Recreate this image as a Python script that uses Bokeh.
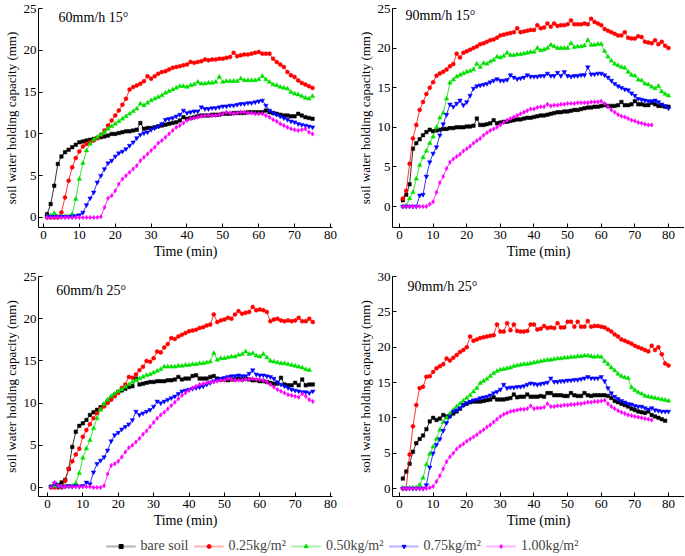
from bokeh.plotting import figure
from bokeh.models import Range1d, Label, Legend, LegendItem, FixedTicker
from bokeh.layouts import column, row
from bokeh.embed import file_html
from bokeh.resources import INLINE

FONT = "Liberation Serif"

series_names = ["bare soil", "0.25kg/m\u00b2", "0.50kg/m\u00b2", "0.75kg/m\u00b2", "1.00kg/m\u00b2"]
colors = ["#000000", "#ff0000", "#00e000", "#0000ff", "#ff00ff"]
pale_colors = ["#b4b4b4", "#ffb4b4", "#a8f0a8", "#b4b4ff", "#ffb4ff"]
markers = ["square", "circle", "triangle", "inverted_triangle", "diamond"]
marker_sizes = [3.5, 4, 4.5, 4.5, 4.5]

titles = ["60mm/h 15\u00b0", "90mm/h 15\u00b0", "60mm/h 25\u00b0", "90mm/h 25\u00b0"]
x_ticks = [0, 10, 20, 30, 40, 50, 60, 70, 80]
y_ticks_25 = [0, 5, 10, 15, 20, 25]
y_ticks_30 = [0, 5, 10, 15, 20, 25, 30]

# ---- Panel 1: 60mm/h 15 deg ----
p1_bare = [0.4,1.6,3.8,6.4,7.3,7.8,8.1,8.4,8.7,9.0, 9.1,9.2,9.3,9.4,9.5,9.6,9.7,9.8,10.0,10.0,
           10.1,10.2,10.3,10.3,10.4,10.5,11.3,10.6,10.7,10.7, 10.8,10.9,11.0,11.1,11.2,11.3,11.4,11.6,12.0,11.8,
           11.9,12.0,12.1,12.2,12.2,12.2,12.3,12.3,12.3,12.4, 12.4,12.4,12.5,12.5,12.5,12.5,12.6,12.6,12.6,12.6,
           12.6,12.8,12.6,12.5,12.4,12.3,12.2,12.2,12.1,12.1, 12.4,12.2,12.0,11.9,11.8]
p1_025 = [0,0,0,0,0.6,2.4,4.4,6.0,7.1,7.9, 8.5,8.8,9.0,9.2,9.5,9.9,10.4,11.0,11.6,12.2,
          12.8,13.5,14.2,15.3,15.6,15.8,16.0,16.3,16.9,16.6, 16.9,17.2,17.4,17.5,17.7,17.9,18.0,18.1,18.2,18.3,
          18.6,18.5,18.6,18.7,18.9,18.8,18.9,18.9,19.0,19.0, 19.1,19.2,19.7,19.3,19.4,19.5,19.5,19.6,19.7,19.8,
          19.6,19.6,19.6,19.0,18.6,18.3,18.0,17.4,17.0,16.8, 16.4,16.1,15.9,15.7,15.5]
p1_050 = [0.1,0.2,0.5,0.1,0.1,0.1,0.1,0.4,2.2,4.6, 6.5,8.0,8.8,9.3,9.6,9.9,10.2,10.6,10.9,11.2,
          11.5,11.8,12.1,12.4,12.7,13.0,13.6,13.4,13.7,14.0, 14.2,14.4,14.6,14.9,15.1,15.3,15.5,15.7,15.7,15.6,
          15.8,15.9,16.2,16.0,16.0,16.1,16.1,16.2,16.8,16.2, 16.3,16.3,16.3,16.3,16.6,16.4,16.4,16.4,16.4,16.5,
          16.9,16.5,16.2,15.9,15.8,15.6,15.5,15.4,15.0,14.8, 14.7,14.5,14.3,14.2,14.5]
p1_075 = [0.1,0.1,0.1,0.1,0.1,0.1,0.1,0.1,0.2,0.3, 0.6,1.5,2.3,3.0,4.2,5.0,5.8,6.5,6.8,7.3,
          7.7,7.9,8.2,8.6,9.0,9.5,9.9,10.1,10.2,10.5, 10.7,10.9,11.2,11.7,11.8,11.9,12.1,12.3,12.8,12.5,
          12.6,12.7,12.7,13.2,13.0,13.0,13.1,13.1,13.2,13.3, 13.3,13.4,13.4,13.5,13.6,13.6,13.7,13.7,13.8,13.9,
          14.0,13.4,12.8,12.5,12.3,12.1,11.9,11.7,11.5,11.4, 11.2,11.1,11.0,10.9,10.8]
p1_100 = [0,0,0,0,0,0,0,0,0,0, 0,0,0,0,0,0.1,1.2,2.3,2.6,3.2,
          4.0,4.6,5.0,5.4,5.8,6.2,6.8,7.2,7.6,8.0, 8.4,8.9,9.2,9.6,10.0,10.4,10.8,11.0,11.3,11.6,
          11.8,11.9,12.0,12.1,12.2,12.2,12.2,12.2,12.3,12.4, 12.6,12.5,12.4,12.5,12.6,12.6,12.5,12.5,12.4,12.4,
          12.4,12.2,12.0,11.7,11.5,11.2,11.0,10.8,10.6,10.5, 10.4,10.5,10.6,10.2,10.0]

# ---- Panel 2: 90mm/h 15 deg ----
p2_bare = [0.8,1.5,2.8,7.3,8.0,8.5,9.0,9.4,9.7,9.5, 9.6,9.7,9.8,9.8,9.9,9.9,10.0,10.0,10.0,10.1,
           10.1,10.2,11.1,10.3,10.3,10.4,10.5,10.9,10.5,10.6, 10.7,10.7,10.8,10.9,11.0,11.0,11.1,11.2,11.2,11.3,
           11.4,11.5,11.5,11.6,11.7,11.8,11.9,11.9,12.0,12.0, 12.1,12.2,12.2,12.3,12.4,12.5,12.5,12.6,12.6,12.7,
           12.8,12.7,12.7,12.7,12.8,13.2,12.8,12.8,12.9,13.3, 12.9,12.9,12.8,12.8,13.1,12.9,12.7,12.7,12.6,12.6]
p2_025 = [1.0,2.0,5.4,8.6,10.3,12.2,13.2,14.2,15.0,15.7, 16.5,16.8,17.0,17.3,17.7,18.0,19.3,18.8,19.4,19.6,
          19.8,20.0,20.2,20.5,20.6,20.8,21.0,21.1,21.3,21.6, 21.7,21.8,21.9,22.0,22.5,22.0,22.1,22.2,22.3,22.3,
          22.9,22.5,22.6,23.1,22.7,23.1,22.8,22.9,22.9,23.0, 23.5,23.0,23.0,23.0,23.1,23.0,23.7,23.3,23.1,22.9,
          22.4,22.2,22.0,21.8,21.6,21.6,22.0,21.3,21.2,21.2, 21.5,21.4,20.8,20.7,20.6,21.0,20.5,20.8,20.3,20.0]
p2_050 = [0,0.1,1.0,1.8,3.5,5.2,6.2,7.0,8.0,8.8, 10.0,11.2,11.8,13.6,15.6,16.0,16.4,16.6,16.8,17.0,
          17.1,17.3,18.0,17.6,18.1,18.0,18.3,18.5,18.9,18.8, 19.0,19.4,19.1,19.1,19.2,19.2,19.3,19.4,19.5,19.5,
          20.0,19.7,19.8,20.0,20.4,20.2,20.0,20.0,20.0,20.0, 20.6,20.1,20.2,20.2,20.3,21.0,20.4,20.4,20.5,20.5,
          19.6,18.9,18.4,18.0,17.8,17.6,17.5,17.0,16.6,16.5, 16.0,15.9,15.5,15.4,15.1,14.9,15.2,14.5,14.2,14.0]
p2_075 = [0,0,0,0,0,1.4,1.5,3.8,5.6,6.7, 7.5,9.0,10.4,11.6,12.9,12.6,13.0,13.4,12.8,13.2,
          14.0,14.9,15.2,15.3,15.4,15.5,15.7,15.9,16.1,15.9, 15.9,16.0,16.6,16.3,16.1,16.2,16.3,16.6,16.4,16.4,
          16.4,16.5,16.5,16.8,16.5,16.5,16.9,16.5,17.0,16.5, 16.4,16.5,16.5,16.6,16.6,17.6,16.7,16.7,16.8,16.8,
          16.6,16.3,15.9,15.5,15.2,15.0,14.8,14.7,14.3,14.0, 13.6,13.5,13.4,13.3,13.3,13.4,13.2,12.9,12.7,12.4]
p2_100 = [0,0,0,0,0,0,0,0,0.3,0.6, 1.8,3.0,3.8,4.8,5.6,6.0,6.3,6.6,7.0,7.3,
          7.6,8.0,8.3,8.6,9.0,9.3,9.6,9.8,10.0,10.3, 10.6,10.9,11.1,11.3,11.5,11.7,11.9,12.1,12.3,12.3,
          12.5,12.6,12.6,12.9,12.7,12.8,12.8,12.9,12.9,13.0, 13.0,13.0,13.1,13.1,13.1,13.1,13.2,13.2,13.2,13.3,
          13.0,12.6,12.2,11.9,11.6,11.4,11.3,11.1,10.9,10.8, 10.6,10.5,10.4,10.3,10.3]

# ---- Panel 3: 60mm/h 25 deg ----
p3_bare = [0.1,0.2,0.3,0.6,0.9,2.2,4.8,6.6,7.3,7.6, 8.0,8.6,8.9,9.2,9.5,9.8,10.2,10.6,11.0,11.3,
           11.5,11.7,11.9,12.0,12.9,12.2,12.3,12.4,12.5,12.5, 12.6,12.6,12.6,12.7,12.7,12.8,13.1,12.8,12.9,12.9,
           13.2,13.3,12.9,12.9,12.9,13.1,13.2,12.9,12.8,12.8, 12.7,12.8,12.8,12.9,12.8,12.9,12.8,12.7,12.7,12.6,
           12.6,12.5,12.4,12.3,12.3,13.0,12.2,12.1,12.1,12.4, 12.1,12.8,12.1,12.2,12.2]
p3_025 = [0,0,0,0,0.8,2.2,3.1,3.9,4.6,6.0, 6.8,7.5,8.2,8.8,9.3,9.6,10.0,10.4,10.8,11.2,
          11.8,12.2,13.1,13.0,13.4,13.9,14.3,15.0,14.9,15.3, 16.1,16.0,16.6,17.0,17.7,17.6,17.9,18.1,18.3,18.5,
          18.6,18.7,18.9,19.0,19.2,19.3,20.5,19.6,19.8,19.9, 20.1,20.0,20.5,20.9,20.6,20.7,20.8,21.4,21.0,21.1,
          21.0,20.8,19.7,19.9,20.0,19.8,19.7,19.8,19.7,19.8, 20.1,19.7,19.7,20.0,19.6]
p3_050 = [0.1,0.2,0.1,0.1,0.2,0.1,0.2,0.5,1.7,3.5, 4.6,5.6,7.0,8.2,9.2,9.9,10.4,10.8,11.1,11.4,
          11.6,11.9,12.2,12.5,12.7,12.9,13.1,13.3,13.4,13.6, 13.8,14.0,14.3,14.3,14.3,14.3,14.4,14.4,14.5,14.5,
          14.6,14.6,14.7,14.7,14.8,14.9,15.9,15.1,15.3,15.3, 15.4,15.5,15.5,15.7,15.8,16.1,15.8,15.9,15.6,15.5,
          15.8,15.4,15.0,14.9,14.8,14.7,14.7,14.6,14.5,14.4, 14.3,14.2,14.0,13.9]
p3_075 = [0.1,0.5,0.1,0.1,0.1,0.2,0.1,0.2,0.1,0.2, 0.6,0.4,1.8,2.8,3.2,3.6,4.4,5.5,6.2,6.5,
          6.9,7.2,7.5,8.0,9.0,8.6,8.8,9.0,9.2,9.6, 10.2,10.0,10.2,10.4,10.6,10.8,11.1,11.4,11.5,11.6,
          11.7,11.8,11.9,12.0,12.2,12.4,12.6,12.8,12.9,13.0, 13.1,13.2,13.2,13.3,13.2,13.2,13.5,13.9,13.4,13.3,
          13.3,13.2,13.1,12.9,12.5,12.2,12.0,11.8,11.6,11.5, 11.4,11.3,11.3,11.2,11.4]
p3_100 = [0,0.6,0.2,0.1,0.1,0.1,0.1,0.1,0.1,0.1, 0.1,0.1,0,0,0,0.2,1.6,2.6,2.8,3.1,
          3.6,4.2,4.7,5.0,5.4,5.8,6.3,6.7,7.2,7.7, 8.2,8.6,8.9,9.3,9.7,10.1,10.5,10.9,11.2,11.5,
          11.8,12.0,12.2,12.3,12.4,12.5,12.5,12.6,12.7,12.7, 12.9,12.8,12.7,12.7,12.7,12.8,12.8,12.9,12.8,12.8,
          12.7,12.5,12.2,11.9,11.6,11.4,11.2,11.0,10.9,10.8, 10.7,11.1,10.8,10.4,10.2]

# ---- Panel 4: 90mm/h 25 deg ----
p4_bare = [1.4,2.4,3.5,5.2,6.4,7.0,7.5,8.4,9.5,10.0, 9.7,9.9,10.4,10.2,10.3,10.6,10.9,11.3,11.8,12.0,
           12.2,12.3,12.3,12.3,12.4,12.5,12.6,12.9,12.6,12.6, 12.6,12.7,12.8,13.3,12.9,13.0,13.0,13.3,13.0,13.0,
           13.0,13.1,13.0,13.5,13.5,13.2,13.2,13.2,13.1,13.1, 13.5,13.2,13.1,13.1,13.5,13.2,13.1,13.2,13.2,13.2,
           13.2,13.1,12.8,12.4,12.2,12.0,11.8,11.6,11.3,11.1, 10.9,10.8,10.7,10.9,10.4,10.2,10.0,9.8,9.6]
p4_025 = [0,0,4.8,8.8,11.8,14.2,14.4,15.8,15.9,16.5, 17.0,17.3,17.6,18.4,18.1,18.5,18.9,19.3,19.6,20.0,
          21.5,20.9,21.1,21.3,21.4,21.5,21.6,21.7,23.2,22.2, 22.2,23.4,22.4,23.2,22.3,22.2,22.2,22.3,23.2,23.2,
          22.5,22.6,23.0,22.7,22.8,22.7,23.4,22.8,22.8,23.6, 23.6,22.9,23.6,22.9,22.9,23.7,22.9,23.0,23.0,22.9,
          22.8,22.5,22.2,21.8,21.5,21.1,20.9,20.7,20.5,20.2, 20.0,19.8,19.6,19.4,20.2,19.6,20.0,19.0,17.7,17.4]
p4_050 = [0.1,0.1,0.1,0.1,0.1,0.5,1.5,3.4,4.9,5.9, 7.0,8.3,9.4,10.0,10.6,11.1,11.6,12.0,12.4,12.8,
          13.2,13.7,14.2,14.9,15.2,15.5,15.9,16.3,16.6,16.8, 16.9,17.0,17.1,17.3,17.4,17.5,17.6,17.6,17.7,17.8,
          17.9,18.0,18.1,18.2,18.2,18.3,18.4,18.4,18.5,18.5, 18.6,18.6,18.7,18.7,18.8,18.8,18.7,18.6,18.7,18.6,
          18.0,17.6,17.1,16.7,16.2,15.9,15.7,15.6,14.3,13.9, 13.6,13.4,13.1,13.0,12.9,12.8,12.7,12.6,12.5,12.4]
p4_075 = [0,0,0,0,0,0,0,0.5,3.0,5.0, 6.2,7.0,8.2,9.3,10.2,10.9,11.1,11.4,11.8,12.1,
          12.3,12.5,12.6,12.8,12.9,13.0,13.2,13.5,13.7,14.0, 14.7,14.2,14.3,14.3,14.4,14.4,14.5,14.7,14.9,14.8,
          14.7,14.8,14.9,15.0,15.6,15.1,15.1,15.2,15.2,15.3, 15.3,15.4,15.4,15.5,15.6,15.8,15.6,15.6,15.6,15.8,
          15.2,14.2,13.5,13.0,12.7,12.4,12.2,12.0,11.9,11.7, 11.6,11.6,11.4,11.2,11.4,11.1,11.0,10.9,10.9,10.9]
p4_100 = [0,0,0,0,0,0,0,0,0.1,0.3, 1.0,1.8,2.8,3.8,4.5,5.0,5.6,6.0,6.3,6.7,
          7.0,7.3,7.6,8.0,8.3,8.7,9.0,9.4,9.8,10.2, 10.5,10.7,10.9,11.0,11.1,11.2,11.2,11.3,11.7,11.3,
          11.4,11.4,11.5,12.0,11.6,11.6,11.7,11.7,11.8,11.8, 11.9,11.9,12.0,12.0,12.1,12.2,12.2,12.3,12.3,12.4,
          12.5,12.0,11.6,11.3,11.0,10.8,10.6,10.4,10.3,10.2, 10.1,10.0,9.9,9.8,9.7]

panel_series = [
    [p1_bare, p1_025, p1_050, p1_075, p1_100],
    [p2_bare, p2_025, p2_050, p2_075, p2_100],
    [p3_bare, p3_025, p3_050, p3_075, p3_100],
    [p4_bare, p4_025, p4_050, p4_075, p4_100],
]


def make_panel(idx, width, height, x_rng, y_rng, y_ticks, mb_left, mb_right, mb_top, mb_bottom,
               title_x, title_y):
    p = figure(width=width, height=height, x_range=Range1d(*x_rng), y_range=Range1d(*y_rng),
               output_backend="svg", toolbar_location=None,
               min_border_left=mb_left, min_border_right=mb_right,
               min_border_top=mb_top, min_border_bottom=mb_bottom)
    p.outline_line_color = None
    p.grid.visible = False
    p.background_fill_color = "white"
    p.border_fill_color = "white"
    for ax in (p.xaxis[0], p.yaxis[0]):
        ax.axis_line_color = "black"
        ax.axis_line_width = 1
        ax.major_tick_in = 4
        ax.major_tick_out = 0
        ax.minor_tick_line_color = None
        ax.major_tick_line_color = "black"
        ax.major_label_text_font = FONT
        ax.major_label_text_font_size = "13px"
        ax.major_label_text_color = "black"
        ax.axis_label_text_font = FONT
        ax.axis_label_text_font_style = "normal"
        ax.axis_label_text_color = "black"
    p.xaxis[0].ticker = FixedTicker(ticks=x_ticks)
    p.yaxis[0].ticker = FixedTicker(ticks=y_ticks)
    p.xaxis[0].axis_label = "Time (min)"
    p.xaxis[0].axis_label_text_font_size = "14px"
    p.xaxis[0].major_label_standoff = 3
    p.xaxis[0].axis_label_standoff = 2
    p.yaxis[0].axis_label = "soil water holding capacity (mm)"
    p.yaxis[0].axis_label_text_font_size = "13px"
    p.yaxis[0].major_label_standoff = 2
    p.yaxis[0].axis_label_standoff = 2

    for vals, c, m, s in zip(panel_series[idx], colors, markers, marker_sizes):
        xs = list(range(1, len(vals) + 1))
        p.line(xs, vals, line_color=c, line_width=0.8)
        p.scatter(xs, vals, marker=m, size=s, fill_color=c, line_color=c, line_width=0.5)

    p.add_layout(Label(x=title_x, y=title_y, text=titles[idx], text_font=FONT,
                       text_font_size="14px", text_baseline="middle", text_color="black"))
    return p


# row 1: frame 219 px tall; row 2: frame 220 px tall
p1 = make_panel(0, 340, 268, (-1.39, 80.56), (-1.2, 25), y_ticks_25, 37, 8, 8, 41, 4.2, 23.9)
p2 = make_panel(1, 344, 268, (-2.08, 84.76), (-2.65, 25), y_ticks_25, 52, 0, 8, 41, 1.8, 24.1)
p3 = make_panel(2, 340, 268, (-2.54, 80.56), (-1.07, 25), y_ticks_25, 37, 8, 8, 40, 2.5, 23.3)
p4 = make_panel(3, 344, 268, (-2.08, 84.76), (-1.13, 30), y_ticks_30, 52, 0, 8, 40, 2.4, 28.6)

# legend strip: dummy renderers sit outside the visible range; only their legend glyphs show
leg = figure(width=684, height=19, x_range=Range1d(0, 1), y_range=Range1d(0, 1),
             output_backend="svg", toolbar_location=None, min_border=0)
leg.axis.visible = False
leg.grid.visible = False
leg.outline_line_color = None
items = []
for name, c, pc, m in zip(series_names, colors, pale_colors, markers):
    lr = leg.line(x=[-5, -4], y=[-5, -5], line_color=pc, line_width=2)
    sr = leg.scatter(x=[-5], y=[-5], marker=m, size=3.5, fill_color=c, line_color=c)
    items.append(LegendItem(label=name, renderers=[lr, sr]))
legend = Legend(items=items, orientation="horizontal", location="center",
                border_line_color=None, background_fill_alpha=0,
                label_text_font=FONT, label_text_font_size="14px",
                glyph_width=30, glyph_height=10, label_height=12, label_standoff=5, spacing=5,
                padding=0, margin=0)
leg.add_layout(legend, "center")

layout = column(row(p1, p2), row(p3, p4), leg)

open("out.html", "w").write(file_html(layout, INLINE))
